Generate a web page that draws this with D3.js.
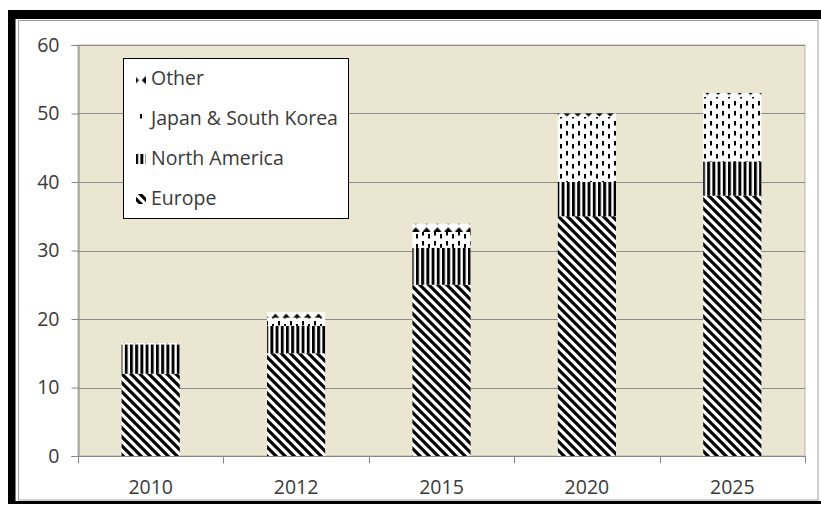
<!DOCTYPE html>
<html>
<head>
<meta charset="utf-8">
<script src="https://cdn.jsdelivr.net/npm/d3@7"></script>
<style>
  html, body { margin: 0; padding: 0; background: #fff; }
  svg { display: block; }
  text { font-family: "Open Sans", "DejaVu Sans", sans-serif; fill: #3a3a3a; }
</style>
</head>
<body>
<svg id="chart" width="821" height="506"></svg>
<script>
// Years on the category axis
const years = ["2010", "2012", "2015", "2020", "2025"];
// Stacked series, bottom to top
const europe       = [12, 15, 25, 35, 38];
const northAmerica = [4.3, 4, 5.4, 5, 5];
const japanKorea   = [0, 1.2, 2.3, 9.5, 9.4];
const other        = [0.2, 0.8, 1.2, 0.5, 0.6];
const seriesNames  = ["Europe", "North America", "Japan & South Korea", "Other"];
const yTicks       = [0, 10, 20, 30, 40, 50, 60];

const svg = d3.select("#chart");
const W = 821, H = 506;

// Outer frame: thick black edge on left/top/bottom, thin grey inner border
svg.append("rect").attr("x", 0).attr("y", 0).attr("width", W).attr("height", H).attr("fill", "#fff");
svg.append("rect").attr("x", 8).attr("y", 10).attr("width", W - 8).attr("height", 9).attr("fill", "#000");
svg.append("rect").attr("x", 8).attr("y", 10).attr("width", 7.5).attr("height", 494).attr("fill", "#000");
svg.append("rect").attr("x", 8).attr("y", 501).attr("width", W - 8).attr("height", 3).attr("fill", "#000");
svg.append("rect").attr("x", 18.5).attr("y", 20.5).attr("width", 799.5).attr("height", 479.5)
  .attr("fill", "#fff").attr("stroke", "#a0a0a0").attr("stroke-width", 1);

// Fill patterns
const defs = svg.append("defs");
function pattern(id, w, h, draw) {
  const p = defs.append("pattern").attr("id", id)
    .attr("patternUnits", "userSpaceOnUse").attr("width", w).attr("height", h);
  p.append("rect").attr("width", w).attr("height", h).attr("fill", "#fff");
  draw(p);
}
// wide downward diagonal
pattern("pEurope", 9, 9, p => {
  p.append("path").attr("d", "M-2,-2 L11,11 M-7,2 L2,11 M7,-2 L11,2")
    .attr("stroke", "#000").attr("stroke-width", 3.2);
});
// dark vertical
pattern("pNA", 5.2, 10, p => {
  p.append("rect").attr("x", 0).attr("y", 0).attr("width", 2.9).attr("height", 10).attr("fill", "#000");
});
// dashed vertical, staggered
pattern("pJK", 12, 10, p => {
  p.append("rect").attr("x", 2).attr("y", 1).attr("width", 2).attr("height", 4.5).attr("fill", "#000");
  p.append("rect").attr("x", 8).attr("y", 4).attr("width", 2).attr("height", 4.5).attr("fill", "#000");
});
// solid diamonds
pattern("pOther", 10.8, 10.8, p => {
  p.append("path").attr("d", "M5.4,0.6 L9.4,4.6 L5.4,8.6 L1.4,4.6 Z").attr("fill", "#000");
});
const fills = ["url(#pEurope)", "url(#pNA)", "url(#pJK)", "url(#pOther)"];

// Plot area
const plotL = 78, plotR = 805, plotT = 45, plotB = 456;
const x = d3.scaleBand().domain(years).range([plotL, plotR]).paddingInner(0.6).paddingOuter(0.3);
const xBand = d3.scaleBand().domain(years).range([plotL, plotR]);
const y = d3.scaleLinear().domain([0, 60]).range([plotB, plotT]);

svg.append("rect").attr("x", plotL).attr("y", plotT).attr("width", plotR - plotL).attr("height", plotB - plotT)
  .attr("fill", "#ebe6d2").attr("stroke", "#b4b4b4").attr("stroke-width", 1);

// Horizontal gridlines
svg.append("g").selectAll("line").data(yTicks.slice(1)).join("line")
  .attr("x1", plotL).attr("x2", plotR)
  .attr("y1", d => Math.round(y(d)) + 0.5).attr("y2", d => Math.round(y(d)) + 0.5)
  .attr("stroke", "#8c8c8c").attr("stroke-width", 1);

// Stacked bars
const table = years.map((yr, i) => ({
  year: yr, "Europe": europe[i], "North America": northAmerica[i],
  "Japan & South Korea": japanKorea[i], "Other": other[i]
}));
const stack = d3.stack().keys(seriesNames)(table);
svg.append("g").selectAll("g").data(stack).join("g")
  .attr("fill", (d, i) => fills[i])
  .selectAll("rect").data(d => d).join("rect")
  .attr("x", d => x(d.data.year))
  .attr("width", x.bandwidth())
  .attr("y", d => y(d[1]))
  .attr("height", d => Math.max(0, y(d[0]) - y(d[1])));

// Y axis
const yAxis = d3.axisLeft(y).tickValues(yTicks).tickSize(7).tickPadding(12);
const gy = svg.append("g").attr("transform", `translate(${plotL + 0.5},0)`).call(yAxis);
gy.select(".domain").attr("stroke", "#868686");
gy.selectAll(".tick line").attr("stroke", "#868686");
gy.selectAll(".tick text").attr("font-size", 19.5).attr("fill", "#3a3a3a")
  .attr("font-family", "'Open Sans', sans-serif");

// X axis with tick marks at category boundaries
const gx = svg.append("g").attr("transform", `translate(0,${plotB + 0.5})`);
gx.append("line").attr("x1", plotL).attr("x2", plotR + 0.5).attr("stroke", "#868686");
const bounds = years.map(d => xBand(d)).concat([plotR]);
gx.selectAll("line.tk").data(bounds).join("line").attr("class", "tk")
  .attr("x1", d => Math.round(d) + 0.5).attr("x2", d => Math.round(d) + 0.5)
  .attr("y1", 0).attr("y2", 7).attr("stroke", "#868686");
gx.selectAll("text").data(years).join("text")
  .attr("x", d => xBand(d) + xBand.bandwidth() / 2)
  .attr("y", 37).attr("text-anchor", "middle")
  .attr("font-size", 19.5).text(d => d);

// Legend
const lg = svg.append("g");
lg.append("rect").attr("x", 123.5).attr("y", 58.5).attr("width", 225).attr("height", 160)
  .attr("fill", "#fff").attr("stroke", "#000").attr("stroke-width", 1);
const legendOrder = [3, 2, 1, 0];
legendOrder.forEach((si, r) => {
  const base = 85 + r * 40;
  lg.append("rect").attr("x", 136).attr("y", base - 11).attr("width", 10).attr("height", 10)
    .attr("fill", fills[si]);
  lg.append("text").attr("x", 151).attr("y", base).attr("font-size", 19.5)
    .attr("fill", "#111").text(seriesNames[si]);
});
</script>
</body>
</html>
